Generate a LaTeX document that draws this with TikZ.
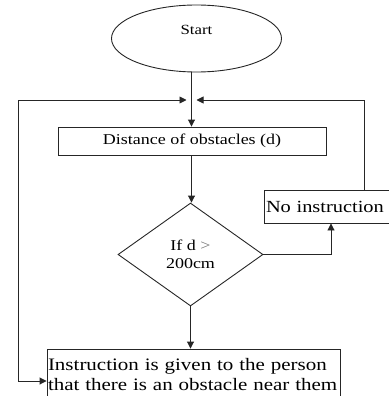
\documentclass[tikz,border=0pt]{standalone}
\usepackage{fontspec}
\setmainfont{Liberation Serif}[FakeStretch=1.2]
\usepackage{tikz}
\usetikzlibrary{shapes.geometric,arrows.meta,positioning,calc}

\begin{document}
\begin{tikzpicture}[x=1pt, y=-1pt, line width=0.9pt, >={Triangle[length=7pt,width=7pt]}]
   \useasboundingbox (0,0) rectangle (388,396);
   \coordinate (merge) at (191.5,100);
   \coordinate (lc) at (18,100);
   \coordinate (rc) at (364,100);
   \begin{scope}[every node/.style={draw=black!85, inner sep=1pt, align=center}]
    \node (start) at (196.5,38.5) [ellipse, minimum width=170pt, minimum height=67pt, font=\fontsize{14}{15}\selectfont] {Start\\[3pt]};
    \node (dist) at (192,141) [rectangle, minimum width=268pt, minimum height=28pt, font=\fontsize{15}{17}\selectfont] {Distance of obstacles (d)};
    \node (dec) at (190.5,254.5) [diamond, minimum width=145pt, minimum height=103pt, font=\fontsize{15}{18}\selectfont] {If d {\color{black!55}>}\\200cm};
    \node (noins) at (328,206.5) [rectangle, minimum width=128pt, minimum height=33pt, text width=124pt, align=left, inner sep=2pt, font=\fontsize{17}{19}\selectfont] {\mbox{No instruction}};
    \node (inst) at (193.5,374.5) [rectangle, minimum width=293pt, minimum height=51pt, text width=291pt, align=left, inner sep=1pt, font=\fontsize{17.5}{20}\selectfont] {\mbox{Instruction is given to the person}\\\mbox{that there is an obstacle near them}\\[3pt]};
   \end{scope}
   \begin{scope}[draw=black!85]
    \draw[->] (start.south -| merge) -- (dist.north -| merge);
    \draw[->] (dist.south -| merge) -- (dec.north -| merge);
    \draw[->] (dec.east) -| ($(noins.south)+(3,0)$);
    \draw[->] (dec.south) -- (dec.south |- inst.north);
    \draw[<->] ($(inst.west)+(0,6.5)$) -| (lc) -- ($(merge)+(-5,0)$);
    \draw[->] (rc |- noins.north) -- (rc) -- ($(merge)+(5,0)$);
   \end{scope}
\end{tikzpicture}
\end{document}
